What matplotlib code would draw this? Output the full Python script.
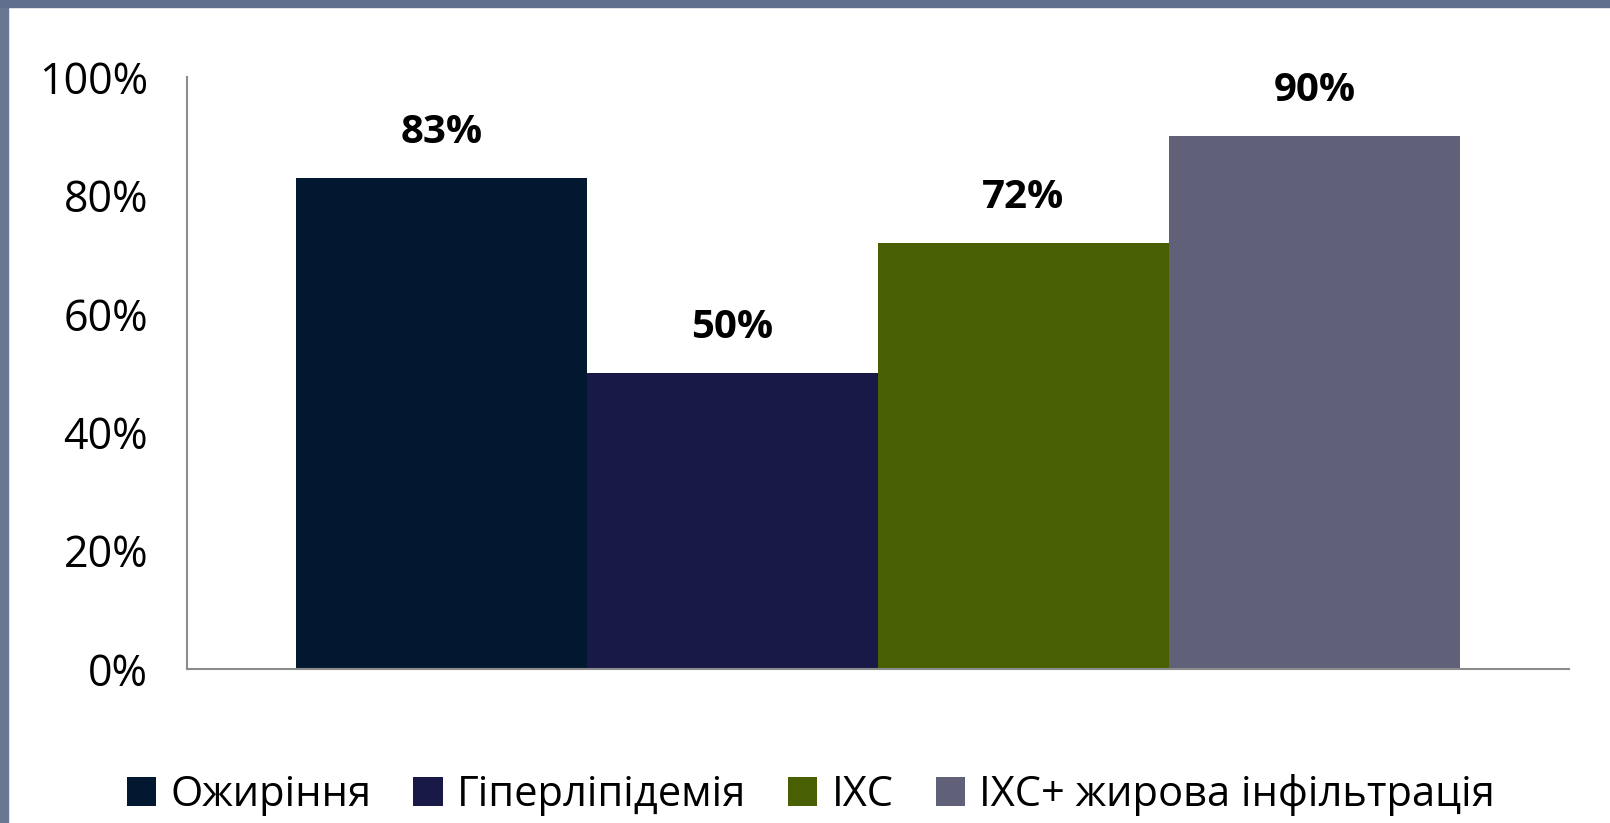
import matplotlib
matplotlib.use("Agg")
import matplotlib.pyplot as plt
from matplotlib.patches import Rectangle, Patch

# дані
categories = ["Ожиріння", "Гіперліпідемія", "ІХС", "ІХС+ жирова інфільтрація"]
values = [0.83, 0.50, 0.72, 0.90]
labels = ["83%", "50%", "72%", "90%"]
colors = ["#021830", "#191948", "#496002", "#606078"]
yticks = [0, 0.2, 0.4, 0.6, 0.8, 1.0]
ytick_labels = ["0%", "20%", "40%", "60%", "80%", "100%"]

plt.rcParams['font.family'] = ['Open Sans', 'DejaVu Sans']

W, H = 1610, 823
fig = plt.figure(figsize=(W / 100, H / 100), dpi=100)
fig.patch.set_facecolor("white")

# рамка слайда
fig.add_artist(Rectangle((0, 0), 8 / W, 1, transform=fig.transFigure, color="#687892", zorder=0))
fig.add_artist(Rectangle((0, 1 - 7 / H), 1, 7 / H, transform=fig.transFigure, color="#5f6f8c", zorder=0))

ax = fig.add_axes([187 / W, (H - 669) / H, 1382 / W, 592 / H])

n = len(values)
bar_w = 0.842 / n
xs = [-0.421 + bar_w * (i + 0.5) for i in range(n)]
bars = ax.bar(xs, values, width=bar_w, color=colors, zorder=2)

for x, v, lab in zip(xs, values, labels):
    ax.text(x, v + 0.077, lab, ha="center", va="center", fontsize=29, fontweight="bold", color="black")

ax.set_xlim(-0.5, 0.5)
ax.set_ylim(0, 1)
ax.set_yticks(yticks)
ax.set_yticklabels(ytick_labels, fontsize=31)
ax.set_xticks([])
ax.tick_params(axis="y", length=0, pad=28)
for s in ["top", "right"]:
    ax.spines[s].set_visible(False)
for s in ["left", "bottom"]:
    ax.spines[s].set_color("#8c8c8c")
    ax.spines[s].set_linewidth(1.5)

handles = [Patch(facecolor=c, label=cat) for c, cat in zip(colors, categories)]
fig.legend(handles=handles, loc="center", bbox_to_anchor=(811 / W, 1 - 795 / H), ncol=4,
           frameon=False, fontsize=30, handlelength=0.7, handleheight=0.7,
           handletextpad=0.35, columnspacing=1.0)

fig.savefig("out.png", dpi=100)
